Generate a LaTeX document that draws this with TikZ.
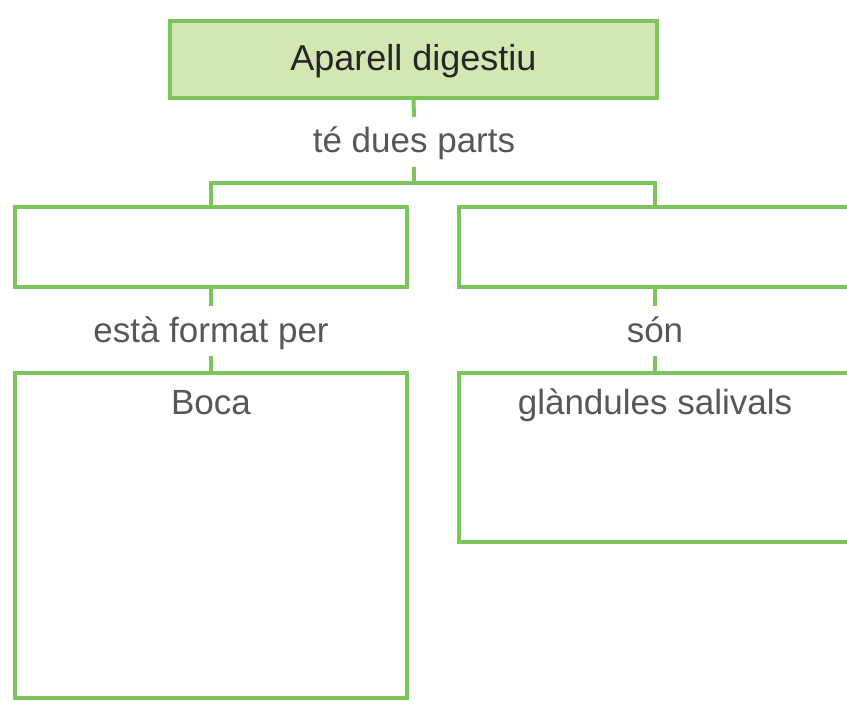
\documentclass[tikz,border=0pt]{standalone}
\usepackage{fontspec}
\setmainfont{Liberation Sans}
\usepackage{tikz}
\usetikzlibrary{positioning}
\definecolor{leafGreen}{HTML}{7DC45A}
\definecolor{paleGreen}{HTML}{D3E7B3}
\definecolor{labelGray}{HTML}{575757}

\begin{document}
\begin{tikzpicture}[x=1pt,y=-1pt,
    conceptBox/.style={draw=leafGreen,line width=4pt,rectangle,inner sep=0pt,
      minimum width=392pt},
    linkText/.style={text=labelGray,font=\fontsize{35}{42}\selectfont,inner sep=0pt,
      text height=27pt,text depth=5pt,minimum height=50pt},
    link/.style={draw=leafGreen,line width=4pt}]
  \useasboundingbox (0,0) rectangle (847,709);
  \clip (0,0) rectangle (847,709);

  \node[conceptBox,fill=paleGreen,minimum width=487pt,minimum height=77pt,
    text=black!85,font=\fontsize{36}{42}\selectfont,text height=27pt,text depth=5pt]
    (aparell) at (413.5,59.5) {Aparell digestiu};
  \node[linkText] (duesParts) at (414,142) {té dues parts};

  \node[conceptBox,minimum height=80pt] (partA) at (211,247) {};
  \node[conceptBox,minimum height=80pt] (partB) at (655,247) {};

  \node[linkText] (formatPer) at (211,331) {està format per};
  \node[linkText] (son) at (655,331) {són};

  \node[conceptBox,minimum height=325pt] (tub) at (211,535.5) {};
  \node[conceptBox,minimum height=169pt] (glandules) at (655,457.5) {};

  \node[linkText] (boca) at (211,403) {Boca};
  \node[linkText] (salivals) at (655,403) {glàndules salivals};

  \coordinate (fork) at (414,185);
  \draw[link] (aparell.south) -- (duesParts.north);
  \draw[link] (duesParts.south) -- (fork);
  \draw[link] (partA.north) -- ++(0,-22) -| (partB.north);

  \draw[link] (partA.south) -- (formatPer.north);
  \draw[link] (formatPer.south) -- (tub.north);
  \draw[link] (partB.south) -- (son.north);
  \draw[link] (son.south) -- (glandules.north);
\end{tikzpicture}
\end{document}
